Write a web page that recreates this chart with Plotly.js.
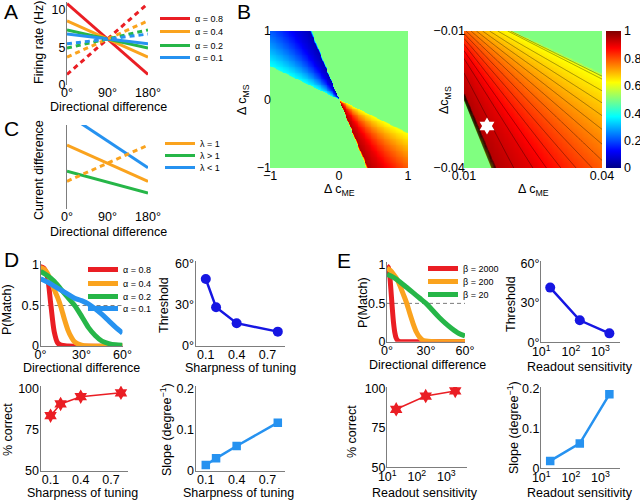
<!DOCTYPE html>
<html>
<head>
<meta charset="utf-8">
<script src="https://cdn.plot.ly/plotly-3.0.1.min.js"></script>
<style>
  html, body { margin: 0; padding: 0; background: #fff; }
  #plot { width: 640px; height: 501px; }
</style>
</head>
<body>
<div id="plot"></div>
<script>
// ---- panel A: firing rate vs directional difference
const dirA = [0, 180];
const alphaNames = ["α = 0.8", "α = 0.4", "α = 0.2", "α = 0.1"];
const rateSame = [[10.8, 1.4], [8.5, 3.7], [7.3, 4.9], [6.75, 5.45]];
const rateOpp = [[1.4, 10.8], [3.7, 8.5], [4.9, 7.3], [5.45, 6.75]];

// ---- panel C: current difference
const dirC = [0, 180];
const lambdaNames = ["λ = 1", "λ > 1", "λ < 1"];
const currEq = [0.76, 0.33];
const currEqDash = [0.33, 0.76];
const currGt = [0.45, 0.19];
const currLt = [1.13, 0.49];

// ---- panel B: value as a function of the direction of (Δc_ME, Δc_MS)
const wedgeAngle = [-68.5, -67, -58, -51, -41, -30, -26.6, -25.6];   // degrees
const wedgeValue = [0.5, 0.95, 0.9, 0.84, 0.75, 0.65, 0.62, 0.5];
const outsideValue = 0.5;
const starME = [0.015];
const starMS = [-0.0308];

// ---- panel D
const dirD08 = [0, 2.5, 5, 7.5, 10, 12.5, 15, 20, 60];
const pD08 = [0.98, 0.96, 0.86, 0.52, 0.18, 0.04, 0.01, 0, 0];
const dirD04 = [0, 2.5, 5, 7.5, 10, 12.5, 15, 17.5, 20, 22.5, 25, 30, 35, 60];
const pD04 = [0.97, 0.95, 0.9, 0.8, 0.7, 0.6, 0.48, 0.33, 0.2, 0.11, 0.05, 0.01, 0, 0];
const dirD02 = [0, 5, 10, 15, 20, 25, 30, 35, 40, 45, 50, 55, 60];
const pD02 = [0.92, 0.87, 0.8, 0.7, 0.6, 0.5, 0.37, 0.23, 0.13, 0.06, 0.03, 0.015, 0.01];
const dirD01 = [0, 5, 10, 15, 20, 25, 30, 35, 40, 45, 50, 55, 60];
const pD01 = [0.83, 0.79, 0.74, 0.69, 0.64, 0.59, 0.56, 0.52, 0.46, 0.39, 0.31, 0.23, 0.16];
const sharpness = [0.1, 0.2, 0.4, 0.8];
const thresholdD = [49, 28.3, 16.7, 10.5];
const correctD = [83.4, 90.5, 94.9, 97.3];
const slopeD = [0.0138, 0.030, 0.060, 0.1165];

// ---- panel E
const betaNames = ["β = 2000", "β = 200", "β = 20"];
const dirE2000 = [0, 1, 2, 3, 4, 5, 6, 7, 8, 10, 15, 60];
const pE2000 = [0.99, 0.97, 0.88, 0.68, 0.45, 0.25, 0.12, 0.05, 0.02, 0, 0, 0];
const dirE200 = [0, 2.5, 5, 7.5, 10, 12.5, 15, 17.5, 20, 22.5, 25, 27.5, 30, 40, 60];
const pE200 = [0.96, 0.93, 0.88, 0.82, 0.73, 0.62, 0.51, 0.37, 0.24, 0.13, 0.06, 0.02, 0.01, 0, 0];
const dirE20 = [0, 5, 10, 15, 20, 25, 30, 35, 40, 45, 50, 55, 60];
const pE20 = [0.88, 0.84, 0.78, 0.71, 0.64, 0.57, 0.5, 0.41, 0.32, 0.24, 0.17, 0.11, 0.075];
const readout = [20, 200, 2000];
const thresholdE = [41.5, 16.7, 6.8];
const correctE = [86.7, 95.1, 98.3];
const slopeE = [0.0185, 0.0623, 0.185];

const criterion = 0.5;

const RED = "rgb(234,30,36)", ORANGE = "rgb(250,163,30)", GREEN = "rgb(38,182,72)",
      SKY = "rgb(38,146,240)", NAVY = "rgb(22,22,226)", GREY = "rgb(125,125,125)";
const colsA = [RED, ORANGE, GREEN, SKY];

const jet = [[0, "rgb(0,0,135)"], [0.125, "rgb(0,0,255)"], [0.375, "rgb(0,255,255)"],
             [0.625, "rgb(255,255,0)"], [0.875, "rgb(255,0,0)"], [1, "rgb(128,0,0)"]];

// value of the map along one direction
function quadValue(t) {
  if (t < wedgeAngle[0] || t > wedgeAngle[wedgeAngle.length - 1]) return outsideValue;
  for (let i = 1; i < wedgeAngle.length; i++) {
    if (t <= wedgeAngle[i]) {
      const f = (t - wedgeAngle[i - 1]) / (wedgeAngle[i] - wedgeAngle[i - 1]);
      return wedgeValue[i - 1] + f * (wedgeValue[i] - wedgeValue[i - 1]);
    }
  }
  return outsideValue;
}
function mapValue(me, ms) {
  if (me === 0 && ms === 0) return outsideValue;
  const t = Math.atan2(ms, me) * 180 / Math.PI;
  if (t < 0 && t > -90) return quadValue(t);
  if (t > 90) return 1 - quadValue(t - 180);
  return outsideValue;
}
function grid(x0, x1, y0, y1, n) {
  const xs = [], ys = [], z = [];
  for (let i = 0; i < n; i++) { xs.push(x0 + (x1 - x0) * i / (n - 1)); ys.push(y0 + (y1 - y0) * i / (n - 1)); }
  ys.forEach(y => z.push(xs.map(x => mapValue(x, y))));
  return { xs, ys, z };
}
const leftMap = grid(-1, 1, -1, 1, 161);
const rightMap = grid(0.01, 0.04, -0.04, -0.01, 111);

const hx = (a, b) => [a / 640, b / 640];
const vy = (top, bottom) => [1 - bottom / 501, 1 - top / 501];

function axis(dom, range, extra) {
  return Object.assign({
    domain: dom, range: range, showgrid: false, zeroline: false,
    showline: true, linecolor: GREY, linewidth: 1, ticks: "",
    tickfont: { size: 12.5 }, fixedrange: true, ticklabelstandoff: -2
  }, extra);
}
const degTicks = v => ({ tickvals: v, ticktext: v.map(d => d + "°") });
const xlin = { ticklabelstandoff: -3 };

// one legend box per row so the rows sit as close as in the figure
const legendRows = [];
function rowLegend(xSwatch, yRow) {
  legendRows.push([xSwatch, yRow]);
  const n = legendRows.length;
  return n === 1 ? "legend" : "legend" + n;
}

const traces = [];

// A
const rowsA = [15, 28, 42, 54];
rateSame.forEach((r, i) => traces.push({
  x: dirA, y: r, type: "scatter", mode: "lines", name: alphaNames[i],
  line: { color: colsA[i], width: 3 }, xaxis: "x", yaxis: "y", legend: rowLegend(160, rowsA[i])
}));
rateOpp.forEach((r, i) => traces.push({
  x: dirA, y: r, type: "scatter", mode: "lines", showlegend: false,
  line: { color: colsA[i], width: 3, dash: "5px,4px" }, xaxis: "x", yaxis: "y"
}));

// C
const rowsC = [140, 152, 164];
[[currEq, ORANGE, 0], [currGt, GREEN, 1], [currLt, SKY, 2]].forEach(([v, c, i]) => traces.push({
  x: dirC, y: v, type: "scatter", mode: "lines", name: lambdaNames[i],
  line: { color: c, width: 3 }, xaxis: "x2", yaxis: "y2", legend: rowLegend(165, rowsC[i])
}));
traces.push({
  x: dirC, y: currEqDash, type: "scatter", mode: "lines", showlegend: false,
  line: { color: ORANGE, width: 3, dash: "5px,4px" }, xaxis: "x2", yaxis: "y2"
});

// B
traces.push({
  type: "heatmap", x: leftMap.xs, y: leftMap.ys, z: leftMap.z, zmin: 0, zmax: 1,
  colorscale: jet, xaxis: "x3", yaxis: "y3", showlegend: false, hoverinfo: "skip",
  colorbar: {
    x: 606 / 640, xanchor: "left", xref: "paper", y: 1 - 31 / 501, yanchor: "top",
    len: 137 / 501, lenmode: "fraction", thickness: 15, thicknessmode: "pixels",
    xpad: 0, ypad: 0, outlinewidth: 0, ticks: "", tickvals: [0, 0.2, 0.4, 0.6, 0.8, 1],
    tickfont: { size: 12.5 }
  }
});
traces.push({
  type: "contour", x: rightMap.xs, y: rightMap.ys, z: rightMap.z, zmin: 0, zmax: 1,
  colorscale: jet, showscale: false, autocontour: false,
  contours: { coloring: "heatmap", start: 0.6, end: 0.94, size: 0.025, showlines: true },
  line: { color: "rgba(0,0,0,0.6)", width: 0.6, smoothing: 0 },
  xaxis: "x4", yaxis: "y4", showlegend: false, hoverinfo: "skip"
});
traces.push({
  x: starME, y: starMS, type: "scatter", mode: "markers", showlegend: false,
  marker: { symbol: "hexagram", size: 13, color: "white" }, xaxis: "x4", yaxis: "y4"
});

// D
const rowsD = [266, 280, 293, 305];
traces.push({ x: [0, 60], y: [criterion, criterion], type: "scatter", mode: "lines", showlegend: false,
  line: { color: GREY, width: 1, dash: "4px,3px" }, xaxis: "x5", yaxis: "y5" });
[[dirD08, pD08, RED, 0], [dirD04, pD04, ORANGE, 1], [dirD02, pD02, GREEN, 2], [dirD01, pD01, SKY, 3]]
  .forEach(([x, y, c, i]) => traces.push({
    x: x, y: y, type: "scatter", mode: "lines", name: alphaNames[i],
    line: { color: c, width: 5, shape: "spline", smoothing: 0.8 },
    xaxis: "x5", yaxis: "y5", legend: rowLegend(88, rowsD[i])
  }));
traces.push({ x: sharpness, y: thresholdD, type: "scatter", mode: "lines+markers", showlegend: false,
  line: { color: NAVY, width: 2.5 }, marker: { color: NAVY, size: 10 }, xaxis: "x6", yaxis: "y6" });
traces.push({ x: sharpness, y: correctD, type: "scatter", mode: "lines+markers", showlegend: false,
  line: { color: RED, width: 1.5 }, marker: { color: RED, size: 11, symbol: "hexagram" }, xaxis: "x7", yaxis: "y7" });
traces.push({ x: sharpness, y: slopeD, type: "scatter", mode: "lines+markers", showlegend: false,
  line: { color: SKY, width: 2.5 }, marker: { color: SKY, size: 8.5, symbol: "square" }, xaxis: "x8", yaxis: "y8" });

// E
const rowsE = [265, 278, 291];
traces.push({ x: [0, 60], y: [criterion, criterion], type: "scatter", mode: "lines", showlegend: false,
  line: { color: GREY, width: 1, dash: "4px,3px" }, xaxis: "x9", yaxis: "y9" });
[[dirE2000, pE2000, RED, 0], [dirE200, pE200, ORANGE, 1], [dirE20, pE20, GREEN, 2]]
  .forEach(([x, y, c, i]) => traces.push({
    x: x, y: y, type: "scatter", mode: "lines", name: betaNames[i],
    line: { color: c, width: 5, shape: "spline", smoothing: 0.8 },
    xaxis: "x9", yaxis: "y9", legend: rowLegend(428, rowsE[i])
  }));
traces.push({ x: readout, y: thresholdE, type: "scatter", mode: "lines+markers", showlegend: false,
  line: { color: NAVY, width: 2.5 }, marker: { color: NAVY, size: 10 }, xaxis: "x10", yaxis: "y10" });
traces.push({ x: readout, y: correctE, type: "scatter", mode: "lines+markers", showlegend: false,
  line: { color: RED, width: 1.5 }, marker: { color: RED, size: 11, symbol: "hexagram" }, xaxis: "x11", yaxis: "y11" });
traces.push({ x: readout, y: slopeE, type: "scatter", mode: "lines+markers", showlegend: false,
  line: { color: SKY, width: 2.5 }, marker: { color: SKY, size: 8.5, symbol: "square" }, xaxis: "x12", yaxis: "y12" });

const logTicks = { type: "log", tickvals: [10, 100, 1000], ticklabelstandoff: -2,
  ticktext: ["10<sup>1</sup>", "10<sup>2</sup>", "10<sup>3</sup>"] };

function ann(text, x, y, extra) {
  return Object.assign({ text: text, x: x / 640, y: 1 - y / 501, xref: "paper", yref: "paper",
    xanchor: "center", yanchor: "middle", showarrow: false, font: { size: 12.5 } }, extra);
}
const up = { textangle: -90 };
const letter = { font: { size: 21 } };

const layout = {
  width: 640, height: 501,
  margin: { l: 0, r: 0, t: 0, b: 0 },
  paper_bgcolor: "white", plot_bgcolor: "white",
  font: { family: "Liberation Sans, Arial, sans-serif", size: 12.5, color: "black" },
  showlegend: true,

  xaxis: axis(hx(67, 148), [0, 180], Object.assign({ anchor: "y", showline: false, ticklabelstandoff: -2 }, degTicks([0, 90, 180]))),
  yaxis: axis(vy(2, 85), [0, 11], { anchor: "x", tickvals: [0, 5, 10] }),
  xaxis2: axis(hx(67, 148), [0, 180], Object.assign({ anchor: "y2", showline: false, ticklabelstandoff: -2 }, degTicks([0, 90, 180]))),
  yaxis2: axis(vy(125, 209), [0, 1], { anchor: "x2", showticklabels: false }),

  xaxis3: axis(hx(270, 408), [-1, 1], { anchor: "y3", tickvals: [-1, 0, 1], showline: false }),
  yaxis3: axis(vy(31, 168), [-1, 1], { anchor: "x3", tickvals: [-1, 0, 1], showline: false }),
  xaxis4: axis(hx(464, 602), [0.01, 0.04], { anchor: "y4", tickvals: [0.01, 0.04], showline: false }),
  yaxis4: axis(vy(31, 168), [-0.04, -0.01], { anchor: "x4", tickvals: [-0.04, -0.01], showline: false }),

  xaxis5: axis(hx(40.5, 122.5), [0, 60], Object.assign({ anchor: "y5" }, xlin, degTicks([0, 30, 60]))),
  yaxis5: axis(vy(261, 346), [0, 1.05], { anchor: "x5", tickvals: [0, 0.5, 1] }),
  xaxis6: axis(hx(195.5, 285), [0, 0.87], Object.assign({ anchor: "y6", tickvals: [0.1, 0.4, 0.7] }, xlin)),
  yaxis6: axis(vy(261, 346), [0, 62.2], Object.assign({ anchor: "x6" }, degTicks([0, 30, 60]))),
  xaxis7: axis(hx(40.5, 128), [0, 0.87], Object.assign({ anchor: "y7", tickvals: [0.1, 0.4, 0.7] }, xlin)),
  yaxis7: axis(vy(386, 470.7), [50, 101.4], { anchor: "x7", tickvals: [50, 75, 100] }),
  xaxis8: axis(hx(195.5, 285), [0, 0.87], Object.assign({ anchor: "y8", tickvals: [0.1, 0.4, 0.7] }, xlin)),
  yaxis8: axis(vy(386, 470.7), [0, 0.2056], { anchor: "x8", tickvals: [0, 0.1, 0.2] }),

  xaxis9: axis(hx(387, 465), [0, 60], Object.assign({ anchor: "y9" }, xlin, degTicks([0, 30, 60]))),
  yaxis9: axis(vy(262, 341.7), [0, 1.04], { anchor: "x9", tickvals: [0, 0.5, 1] }),
  xaxis10: axis(hx(541, 620), [0.99, 3.66], Object.assign({ anchor: "y10" }, logTicks)),
  yaxis10: axis(vy(261, 342.3), [0, 61.7], Object.assign({ anchor: "x10" }, degTicks([0, 30, 60]))),
  xaxis11: axis(hx(387, 467), [0.99, 3.70], Object.assign({ anchor: "y11" }, logTicks)),
  yaxis11: axis(vy(387, 467.3), [50, 100.8], { anchor: "x11", tickvals: [50, 75, 100] }),
  xaxis12: axis(hx(541, 620), [0.99, 3.66], Object.assign({ anchor: "y12" }, logTicks)),
  yaxis12: axis(vy(387, 468.3), [0, 0.2033], { anchor: "x12", tickvals: [0, 0.1, 0.2] }),

  annotations: [
    ann("A", 11, 12, letter), ann("B", 244, 12, letter), ann("C", 11, 129, letter),
    ann("D", 11, 259, letter), ann("E", 344, 260, letter),
    ann("Directional difference", 108, 107), ann("Firing rate (Hz)", 39, 43, up),
    ann("Directional difference", 108, 232), ann("Current difference", 39, 170, up),
    ann("Δ c<sub>ME</sub>", 339, 190), ann("Δ c<sub>MS</sub>", 243, 100, up),
    ann("Δ c<sub>ME</sub>", 533, 190), ann("Δc<sub>MS</sub>", 445, 100, up),
    ann("Directional difference", 81, 368), ann("P(Match)", 7, 310, up),
    ann("Sharpness of tuning", 240, 368), ann("Threshold", 164, 305, up),
    ann("Sharpness of tuning", 82, 493), ann("% correct", 8, 430, up),
    ann("Sharpness of tuning", 238, 493), ann("Slope (degree<sup>−1</sup>)", 166, 430, up),
    ann("Directional difference", 427, 365), ann("P(Match)", 363, 303, up),
    ann("Readout sensitivity", 580, 367), ann("Threshold", 511, 304, up),
    ann("Readout sensitivity", 425, 493), ann("% correct", 352, 432, up),
    ann("Readout sensitivity", 580, 493), ann("Slope (degree<sup>−1</sup>)", 513, 428, up)
  ]
};

legendRows.forEach(([xs, yr], i) => {
  layout[i === 0 ? "legend" : "legend" + (i + 1)] = {
    x: (xs - 5) / 640, y: 1 - (yr - 11) / 501, xanchor: "left", yanchor: "top",
    xref: "paper", yref: "paper", bgcolor: "rgba(0,0,0,0)", font: { size: 9 }, itemwidth: 30
  };
});

Plotly.newPlot(document.getElementById("plot"), traces, layout, { staticPlot: true, displayModeBar: false });
</script>
</body>
</html>
